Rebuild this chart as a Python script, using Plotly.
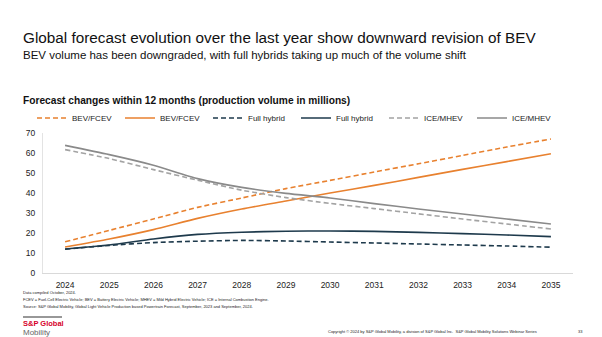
import plotly.graph_objects as go

years = list(range(2024, 2036))
bev_prev = [15.6, 21.3, 27.0, 32.8, 37.5, 42.2, 46.3, 50.5, 54.6, 58.8, 63.0, 67.0]
bev_curr = [13.0, 17.0, 21.7, 27.3, 32.0, 36.0, 40.0, 43.8, 47.8, 51.8, 55.7, 59.6]
hyb_prev = [11.9, 13.8, 15.2, 15.9, 16.3, 16.0, 15.5, 15.0, 14.5, 14.0, 13.5, 12.9]
hyb_curr = [12.0, 14.0, 17.0, 19.3, 20.4, 20.9, 21.0, 20.8, 20.3, 19.7, 19.0, 18.2]
ice_prev = [61.7, 57.2, 51.7, 46.4, 41.4, 37.7, 34.8, 32.2, 29.6, 27.0, 24.5, 22.0]
ice_curr = [63.8, 59.2, 53.9, 47.2, 42.8, 39.8, 37.5, 34.7, 32.0, 29.5, 27.0, 24.5]
y_ticks = [0, 10, 20, 30, 40, 50, 60, 70]

W, H = 602, 337
L, R, T, B = 43, 29, 133, 64
PW, PH = W - L - R, H - T - B

def px(x):
    return (x - L) / PW

def py(y):
    return (H - B - y) / PH

FONT = "Arial, Liberation Sans, sans-serif"
ORANGE = "#E8812F"
NAVY = "#1E3A4C"
GRAY = "#8A8A8A"
GRAY_D = "#A3A3A3"
DASH = "5px,3px"

series = [
    ("BEV/FCEV", bev_prev, ORANGE, DASH),
    ("BEV/FCEV", bev_curr, ORANGE, "solid"),
    ("Full hybrid", hyb_prev, NAVY, DASH),
    ("Full hybrid", hyb_curr, NAVY, "solid"),
    ("ICE/MHEV", ice_prev, GRAY_D, DASH),
    ("ICE/MHEV", ice_curr, GRAY, "solid"),
]

fig = go.Figure()
for name, vals, col, dash in series:
    fig.add_trace(go.Scatter(
        x=years, y=vals, name=name, mode="lines",
        line=dict(color=col, width=1.6, dash=dash, shape="spline", smoothing=0.6),
        hoverinfo="skip",
    ))

fig.update_layout(
    width=W, height=H,
    margin=dict(l=L, r=R, t=T, b=B, pad=0, autoexpand=False),
    paper_bgcolor="white", plot_bgcolor="white",
    font=dict(family=FONT, color="#222222", size=8),
    showlegend=True,
    legend=dict(
        orientation="h", xref="container", yref="container",
        x=32 / W, y=1 - 118 / H, xanchor="left", yanchor="middle",
        font=dict(size=8, color="#222222"),
        entrywidth=43, entrywidthmode="pixels",
        bgcolor="rgba(0,0,0,0)", traceorder="normal",
        itemclick=False,
    ),
    xaxis=dict(
        range=[2023.5, 2035.5], tickmode="array", tickvals=years,
        ticktext=[str(y) for y in years], showgrid=False, zeroline=False,
        showline=True, linecolor="#D9D9D9", linewidth=1,
        ticks="", tickfont=dict(size=8.5, color="#222222"),
        ticklabelstandoff=4,
    ),
    yaxis=dict(
        range=[0, 70], tickmode="array", tickvals=y_ticks,
        showgrid=False, zeroline=False,
        showline=True, linecolor="#E3E3E3", linewidth=1,
        ticks="", tickfont=dict(size=8.5, color="#222222"),
        ticklabelstandoff=5,
    ),
)

def note(x, y, text, size, color="#222222", bold=False, xanchor="left"):
    if bold:
        text = "<b>" + text + "</b>"
    fig.add_annotation(
        x=px(x), y=py(y), xref="paper", yref="paper", text=text,
        showarrow=False, xanchor=xanchor, yanchor="middle",
        font=dict(family=FONT, size=size, color=color), borderpad=0,
    )

note(22, 37, "Global forecast evolution over the last year show downward revision of BEV", 15.3, "#111111")
note(22, 55, "BEV volume has been downgraded, with full hybrids taking up much of the volume shift", 11.5, "#111111")
note(22, 101, "Forecast changes within 12 months (production volume in millions)", 10.2, "#111111", bold=True)

note(22, 292, "Data compiled October, 2024.", 4)
note(22, 299, "FCEV = Fuel-Cell Electric Vehicle; BEV = Battery Electric Vehicle; MHEV = Mild Hybrid Electric Vehicle; ICE = Internal Combustion Engine.", 4)
note(22, 306, "Source: S&amp;P Global Mobility, Global Light Vehicle Production based Powertrain Forecast, September, 2023 and September, 2024.", 4)

fig.add_shape(type="line", xref="paper", yref="paper",
              x0=px(23), x1=px(62), y0=py(317), y1=py(317),
              line=dict(color="#333333", width=1.2))
note(22, 323.5, "<b>S&amp;P Global</b>", 7.5, "#D6002A")
note(22, 332, "Mobility", 8, "#666666")
note(327, 331, "Copyright © 2024 by S&amp;P Global Mobility, a division of S&amp;P Global Inc.  S&amp;P Global Mobility Solutions Webinar Series", 4)
note(577, 331, "33", 4)

fig.write_html("out.html")
